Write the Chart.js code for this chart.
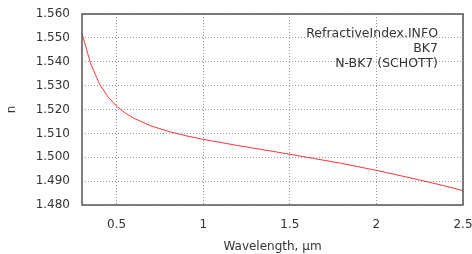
<!DOCTYPE html>
<html>
<head>
<meta charset="utf-8">
<script src="https://cdn.jsdelivr.net/npm/chart.js@4"></script>
<style>
  html, body { margin: 0; padding: 0; background: #fff; }
  #wrap { width: 472px; height: 254px; }
</style>
</head>
<body>
<div id="wrap"><canvas id="nChart" width="472" height="254"></canvas></div>
<script>
// wavelength (µm) and refractive index n
const wavelength = [0.30, 0.35, 0.40, 0.45, 0.50, 0.55, 0.60, 0.70, 0.80, 0.90, 1.00, 1.20, 1.40, 1.60, 1.80, 2.00, 2.20, 2.40, 2.50];
const nValues    = [1.5518, 1.5392, 1.5308, 1.5253, 1.5214, 1.5185, 1.5163, 1.5131, 1.5108, 1.5090, 1.5075,
                    1.5049, 1.5025, 1.5000, 1.4974, 1.4945, 1.4913, 1.4879, 1.4860];
const xTicks = [0.5, 1, 1.5, 2, 2.5];
const yTicks = [1.48, 1.49, 1.50, 1.51, 1.52, 1.53, 1.54, 1.55, 1.56];
const infoLines = ['RefractiveIndex.INFO', 'BK7', 'N-BK7 (SCHOTT)'];

const FONT = 'DejaVu Sans';

// frame round the plot + source text in the top right corner
const framePlugin = {
    id: 'frame',
    afterDraw(chart) {
        const { ctx, chartArea: a } = chart;
        ctx.save();
        ctx.strokeStyle = '#555';
        ctx.lineWidth = 1.5;
        ctx.strokeRect(a.left, a.top, a.right - a.left, a.bottom - a.top);
        ctx.font = '12.5px "' + FONT + '"';
        ctx.fillStyle = '#333';
        ctx.textAlign = 'right';
        ctx.textBaseline = 'middle';
        infoLines.forEach((t, i) => ctx.fillText(t, 438, 34 + i * 15));
        ctx.restore();
    }
};

new Chart(document.getElementById('nChart'), {
    type: 'line',
    data: {
        datasets: [{
            data: wavelength.map((w, i) => ({ x: w, y: nValues[i] })),
            borderColor: '#ff3535',
            borderWidth: 1,
            pointRadius: 0,
            tension: 0,
            fill: false
        }]
    },
    options: {
        responsive: false,
        animation: false,
        layout: { padding: { top: 14, right: 0, left: 0, bottom: 0 } },
        plugins: { legend: { display: false }, tooltip: { enabled: false } },
        scales: {
            x: {
                type: 'linear',
                min: 0.3,
                max: 2.5,
                afterBuildTicks: s => { s.ticks = xTicks.map(v => ({ value: v })); },
                afterFit: s => { s.height = 49; s.paddingRight = 9; s.paddingLeft = 0; },
                grid: { color: '#999', tickLength: 0, drawTicks: false },
                border: { display: false, dash: [1, 2] },
                ticks: {
                    font: { family: FONT, size: 12 },
                    color: '#333',
                    padding: 13,
                    maxRotation: 0,
                    callback: v => String(v)
                },
                title: {
                    display: true,
                    text: 'Wavelength, µm',
                    font: { family: FONT, size: 12 },
                    color: '#333',
                    padding: { top: 8, bottom: 0 }
                }
            },
            y: {
                min: 1.48,
                max: 1.56,
                afterBuildTicks: s => { s.ticks = yTicks.map(v => ({ value: v })); },
                afterFit: s => { s.width = 82; s.paddingTop = 0; s.paddingBottom = 0; },
                grid: { color: '#999', tickLength: 0, drawTicks: false },
                border: { display: false, dash: [1, 2] },
                ticks: {
                    font: { family: FONT, size: 12 },
                    color: '#333',
                    padding: 12,
                    callback: v => v.toFixed(3)
                },
                title: {
                    display: true,
                    text: 'n',
                    font: { family: FONT, size: 12 },
                    color: '#333',
                    padding: { top: 5, bottom: 2 }
                }
            }
        }
    },
    plugins: [framePlugin]
});
</script>
</body>
</html>
